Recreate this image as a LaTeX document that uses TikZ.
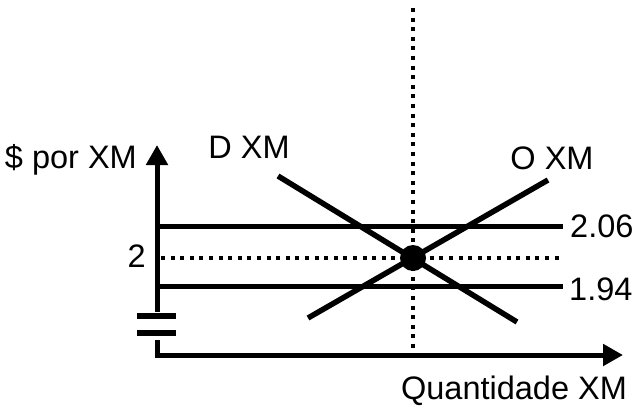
\documentclass[tikz,border=0pt]{standalone}
\usepackage{fontspec}
\setmainfont{Liberation Sans}
\usetikzlibrary{arrows.meta}

\tikzset{
  thickline/.style={line width=5pt},
  curveline/.style={line width=5.5pt},
  dotline/.style={line width=4pt,dash pattern=on 4pt off 5.6pt},
  breakbar/.style={line width=6pt},
  lbl/.style={inner sep=0pt,font=\fontsize{32.5}{38}\selectfont},
}

\begin{document}
\begin{tikzpicture}[x=1pt,y=-1pt,>={Triangle[length=20pt,width=21pt]}]
  \useasboundingbox (0,0) rectangle (636,407);

  % axes with break
  \coordinate (ybot) at (157,312);
  \coordinate (ytop) at (157,145);
  \coordinate (lowtop) at (157,340);
  \coordinate (origin) at (157,355);
  \coordinate (xend) at (623,355);
  \draw[thickline,->] (ybot) -- (ytop);
  \draw[breakbar] (137,316) -- (176,316);
  \draw[breakbar] (137,333) -- (176,333);
  \draw[thickline,->] (lowtop) -- (origin) -- (xend);

  % price levels
  \draw[thickline] (157,226) -- (563,226);
  \draw[thickline] (157,286) -- (563,286);
  \draw[dotline] (161,258) -- (563,258);
  \draw[dotline] (413,8) -- (413,352);

  % demand and supply
  \coordinate (dtop) at (278,176);
  \coordinate (dbot) at (517,322);
  \coordinate (obot) at (308,318);
  \coordinate (otop) at (548,180);
  \draw[curveline] (dtop) -- (dbot);
  \draw[curveline] (obot) -- (otop);
  \node[circle,fill=black,minimum size=26pt,inner sep=0pt] (eq) at (413,258) {};

  % labels
  \node[lbl,anchor=base east] (ylab) at (137,168) {\$ por XM};
  \node[lbl,anchor=base east] (two) at (146,267) {2};
  \node[lbl,anchor=base west] (hi) at (570,237) {2.06};
  \node[lbl,anchor=base west] (lo) at (569,300) {1.94};
  \node[lbl,anchor=base] (dlab) at (249,158) {D XM};
  \node[lbl,anchor=base] (olab) at (552,169) {O XM};
  \node[lbl,anchor=base] (xlab) at (514,399) {Quantidade XM};
\end{tikzpicture}
\end{document}
